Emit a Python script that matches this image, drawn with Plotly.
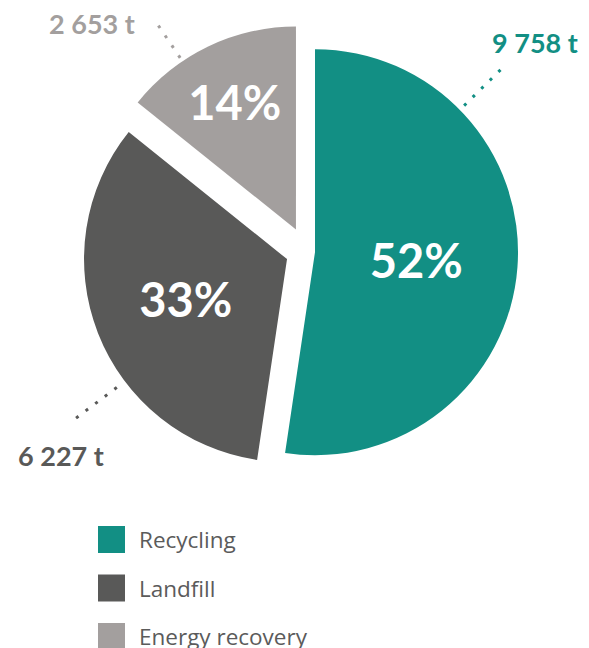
import math
import plotly.graph_objects as go

# ---- data ----
categories = ["Recycling", "Landfill", "Energy recovery"]
tonnes = [9758, 6227, 2653]
value_labels = ["9 758 t", "6 227 t", "2 653 t"]
colors = ["#128F84", "#595958", "#A39F9E"]

# ---- layout / style ----
PAGE_OFF = 8                      # default body margin of the page
W, H = 589 - PAGE_OFF, 648 - PAGE_OFF


def px(x, y):
    """window pixel -> paper coords"""
    return (x - PAGE_OFF) / W, 1 - (y - PAGE_OFF) / H


pulls = [0.042, 0.103, 0.12]
cx, cy, R = 306.5, 251.5, 203.0
half = R * (1 + max(pulls))
x_lo, y_hi = px(cx - half, cy - half)
x_hi, y_lo = px(cx + half, cy + half)

# leader line style per slice: angle (deg from 12 o'clock, clockwise), inner/outer radius factors
leader_angle = [45.5, 233, 326]
leader_r = [(1.03, 1.315), (1.05, 1.345), (1.02, 1.24)]
label_offset = [(-15, -23, "left"), (-8, 32, "center"), (-18, 2.5, "right")]

fig = go.Figure()
fig.add_trace(go.Pie(
    labels=categories,
    values=tonnes,
    sort=False,
    direction="clockwise",
    rotation=0,
    pull=pulls,
    marker=dict(colors=colors, line=dict(width=0)),
    textinfo="percent",
    texttemplate="%{percent:.0%}",
    textposition="inside",
    insidetextorientation="horizontal",
    textfont=dict(family="Lato", size=47, color="white", weight=700),
    hoverinfo="skip",
    showlegend=False,
    domain=dict(x=[x_lo, x_hi], y=[y_lo, y_hi]),
))

total = sum(tonnes)
shapes, annotations = [], []
start = 0.0
for i, v in enumerate(tonnes):
    frac = v / total
    mid = (start + frac / 2) * 2 * math.pi
    start += frac
    vx = cx + pulls[i] * R * math.sin(mid)
    vy = cy - pulls[i] * R * math.cos(mid)
    a = math.radians(leader_angle[i])
    r0, r1 = leader_r[i]
    x0, y0 = vx + r0 * R * math.sin(a), vy - r0 * R * math.cos(a)
    x1, y1 = vx + r1 * R * math.sin(a), vy - r1 * R * math.cos(a)
    p0, p1 = px(x0, y0), px(x1, y1)
    shapes.append(dict(type="line", xref="paper", yref="paper",
                       x0=p0[0], y0=p0[1], x1=p1[0], y1=p1[1],
                       line=dict(color=colors[i], width=3, dash="3px,9px")))
    dx, dy, anc = label_offset[i]
    lp = px(x1 + dx, y1 + dy)
    annotations.append(dict(xref="paper", yref="paper", x=lp[0], y=lp[1],
                            text=value_labels[i], showarrow=False, xanchor=anc, yanchor="middle",
                            font=dict(family="Lato", size=27, color=colors[i], weight=700)))

# custom legend
leg_x0, leg_size, leg_top, leg_step = 98, 27, 526, 48.5
for i, name in enumerate(categories):
    top = leg_top + i * leg_step
    a0 = px(leg_x0, top + leg_size)
    a1 = px(leg_x0 + leg_size, top)
    shapes.append(dict(type="rect", xref="paper", yref="paper",
                       x0=a0[0], x1=a1[0], y0=a0[1], y1=a1[1],
                       fillcolor=colors[i], line=dict(width=0)))
    tp = px(137, top + leg_size / 2)
    annotations.append(dict(xref="paper", yref="paper", x=tp[0], y=tp[1],
                            text=name, showarrow=False, xanchor="left", yanchor="middle",
                            font=dict(family="Open Sans", size=22.5, color="#5B5B5B")))

fig.update_layout(
    width=W, height=H,
    margin=dict(l=0, r=0, t=0, b=0),
    paper_bgcolor="white", plot_bgcolor="white",
    shapes=shapes, annotations=annotations,
)
fig.write_html("out.html")
